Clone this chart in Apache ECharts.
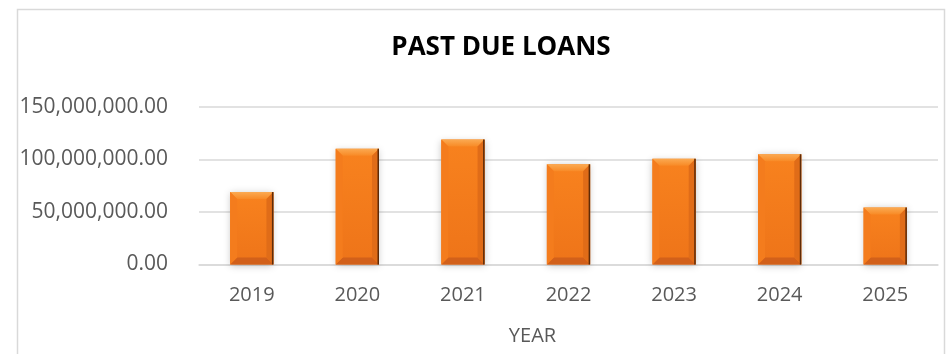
<!DOCTYPE html>
<html>
<head>
<meta charset="utf-8">
<script src="https://cdn.jsdelivr.net/npm/echarts@6/dist/echarts.min.js"></script>
<style>
html,body{margin:0;padding:0;background:#fff;}
#chart{width:948px;height:354px;}
</style>
</head>
<body>
<div id="chart"></div>
<script>
var categories = ['2019','2020','2021','2022','2023','2024','2025'];
var pastDueLoans = [69000000, 110300000, 119000000, 95400000, 100800000, 105000000, 54300000];
var yTicks = [0, 50000000, 100000000, 150000000];
var titleText = 'PAST DUE LOANS';
var xAxisTitle = 'YEAR';

var FONT = '"Open Sans", "Noto Sans", sans-serif';

function fmt(v){
  return Number(v).toLocaleString('en-US',{minimumFractionDigits:2, maximumFractionDigits:2});
}

function renderBar(params, api){
  var idx = api.value(0);
  var val = api.value(1);
  var top = api.coord([idx, val]);
  var base = api.coord([idx, 0]);
  var bw = api.size([1, 0])[0] * 0.41;
  var x0 = top[0] - bw/2, x1 = top[0] + bw/2;
  var y0 = top[1], y1 = base[1];
  var b = 7;
  return {
    type: 'group',
    children: [
      {type:'rect', shape:{x:x0, y:y0, width:x1-x0, height:y1-y0},
        style:{fill: new echarts.graphic.LinearGradient(0,0,0,1,[{offset:0,color:'#F8821E'},{offset:1,color:'#EE7419'}]),
          shadowBlur:7, shadowColor:'rgba(0,0,0,0.22)', shadowOffsetY:1}},
      {type:'polygon', shape:{points:[[x0,y0],[x1,y0],[x1-b,y0+b],[x0+b,y0+b]]},
        style:{fill: new echarts.graphic.LinearGradient(0,0,0,1,[{offset:0,color:'#FBAA52'},{offset:1,color:'#F88A26'}])}},
      {type:'polygon', shape:{points:[[x0,y1],[x1,y1],[x1-b,y1-b],[x0+b,y1-b]]},
        style:{fill:'#D2601A'}},
      {type:'polygon', shape:{points:[[x0,y0],[x0+b,y0+b],[x0+b,y1-b],[x0,y1]]},
        style:{fill:'#F47C1D'}},
      {type:'polygon', shape:{points:[[x1,y0],[x1-b,y0+b],[x1-b,y1-b],[x1,y1]]},
        style:{fill:'#E06C18'}},
      {type:'rect', shape:{x:x1-1.5, y:y0, width:1.5, height:y1-y0},
        style:{fill:'#5E2B08'}}
    ]
  };
}

var chart = echarts.init(document.getElementById('chart'), null, {renderer:'canvas'});
chart.setOption({
  animation:false,
  backgroundColor:'#ffffff',
  graphic:[{type:'rect', left:15, top:7, shape:{width:927, height:360},
    style:{fill:'none', stroke:'#d9d9d9', lineWidth:1.5}, silent:true, z:-1}],
  title:{text:titleText, left:496, top:30, textAlign:'center',
    textStyle:{fontFamily:FONT, fontWeight:'bold', fontSize:26, color:'#000'}},
  grid:{left:199, right:10, top:107, bottom:89.5, containLabel:false},
  xAxis:{type:'category', data:categories,
    axisLine:{show:true, lineStyle:{color:'#d9d9d9', width:1.5}},
    axisTick:{show:false},
    axisLabel:{fontFamily:FONT, fontSize:20, color:'#595959', margin:21},
    name:xAxisTitle, nameLocation:'middle', nameGap:62,
    nameTextStyle:{fontFamily:FONT, fontSize:20, color:'#595959', padding:[0,72,0,0]}},
  yAxis:{type:'value', min:0, max:150000000, interval:50000000,
    axisLine:{show:false}, axisTick:{show:false},
    splitLine:{lineStyle:{color:'#d9d9d9', width:1.5}},
    axisLabel:{fontFamily:FONT, fontSize:21, color:'#595959', margin:31,
      formatter:function(v){ return fmt(v); }}},
  series:[{type:'custom', renderItem:renderBar,
    data: pastDueLoans.map(function(v,i){ return [i, v]; }),
    encode:{x:0, y:1}}]
});
</script>
</body>
</html>
